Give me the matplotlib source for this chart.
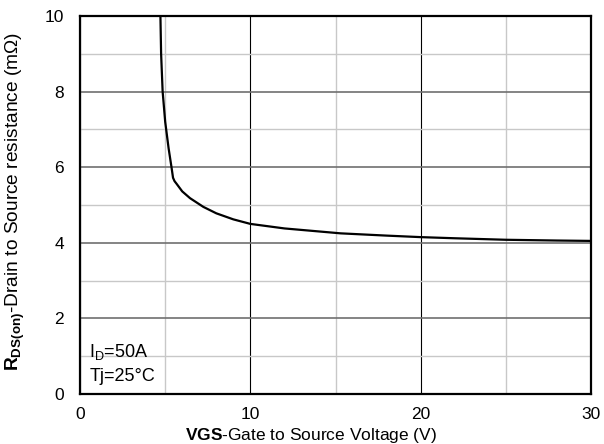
import matplotlib.pyplot as plt
from matplotlib.ticker import MultipleLocator

plt.rcParams['font.family'] = ['Liberation Sans', 'DejaVu Sans']
plt.rcParams['mathtext.fontset'] = 'custom'
plt.rcParams['mathtext.rm'] = 'Liberation Sans'
plt.rcParams['mathtext.it'] = 'Liberation Sans:italic'
plt.rcParams['mathtext.bf'] = 'Liberation Sans:bold'

# RDS(on) vs VGS, ID=50A, Tj=25C
vgs = [4.72, 4.76, 4.85, 5.0, 5.2, 5.38, 5.46, 5.55, 5.67, 6.0, 6.46, 7.24, 8.0, 9.0,
       10.0, 12.0, 15.3, 18.0, 20.0, 22.0, 25.0, 28.0, 30.0]
rds = [10.0, 9.0, 8.0, 7.2, 6.5, 5.97, 5.72, 5.63, 5.56, 5.36, 5.18, 4.95, 4.78, 4.62,
       4.50, 4.38, 4.25, 4.19, 4.15, 4.12, 4.08, 4.06, 4.05]

fig = plt.figure(figsize=(6.04, 4.44), dpi=100)
ax = fig.add_axes([0.1325, 0.1126, 0.8460, 0.8514])

ax.plot(vgs, rds, color='black', lw=1.6, zorder=3)

ax.set_xlim(0, 30)
ax.set_ylim(0, 10)
ax.xaxis.set_major_locator(MultipleLocator(10))
ax.xaxis.set_minor_locator(MultipleLocator(5))
ax.yaxis.set_major_locator(MultipleLocator(2))
ax.yaxis.set_minor_locator(MultipleLocator(1))

ax.grid(axis='x', which='major', color='black', lw=0.8)
ax.grid(axis='x', which='minor', color='#c8c8c8', lw=1.0)
ax.grid(axis='y', which='major', color='#707070', lw=1.2)
ax.grid(axis='y', which='minor', color='#c8c8c8', lw=1.0)
ax.set_axisbelow(True)

for s in ax.spines.values():
    s.set_linewidth(1.6)

ax.tick_params(which='both', length=0, labelsize=12.5)
ax.tick_params(axis='x', pad=9.5)
ax.tick_params(axis='y', pad=11.5)

ax.set_xlabel(r'$\mathbf{VGS}$-Gate to Source Voltage (V)', fontsize=12.5)
ax.xaxis.set_label_coords(0.452, -0.084)
ax.set_ylabel(r'$\mathbf{R}_{\mathbf{DS(on)}}$-Drain to Source resistance (m$\Omega$)',
              fontsize=13.8)
ax.yaxis.set_label_coords(-0.104, 0.51)

ax.text(0.55, 1.11, r'I$_\mathrm{D}$=50A', fontsize=13, va='center')
ax.text(0.55, 0.45, 'Tj=25\u00b0C', fontsize=13, va='center')

fig.savefig('out.png', dpi=100)
